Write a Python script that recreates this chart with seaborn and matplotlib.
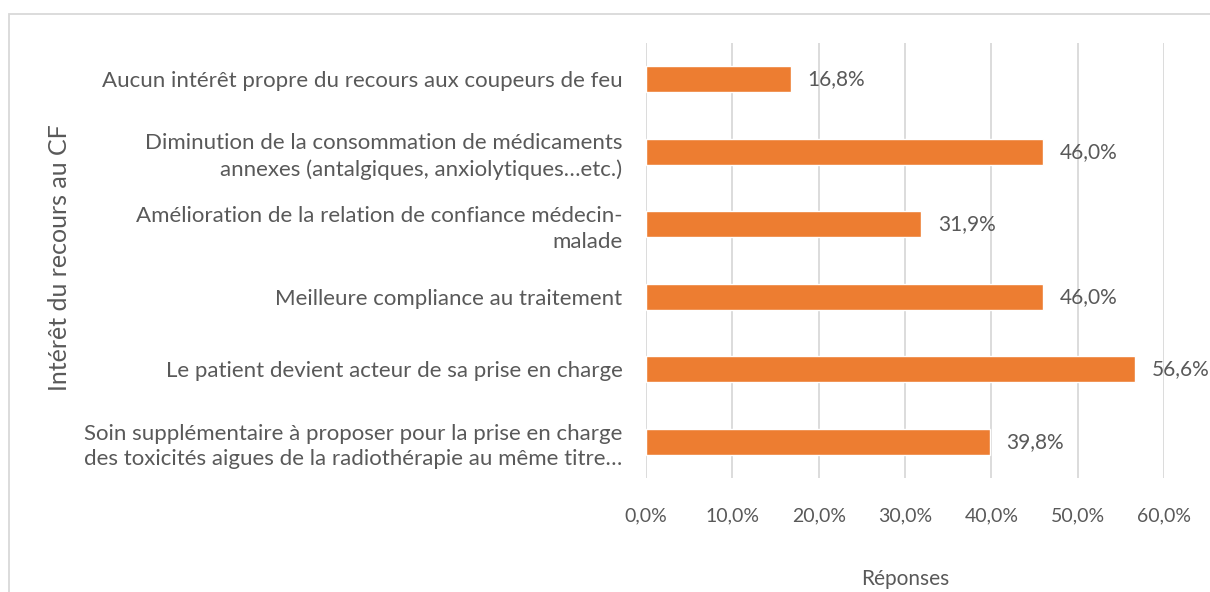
import matplotlib
matplotlib.use("Agg")
import matplotlib.pyplot as plt
import matplotlib.patches as mpatches
import seaborn as sns
import pandas as pd
from matplotlib.ticker import FuncFormatter

# ── data ─────────────────────────────────────────────
categories = [
    "Aucun intérêt propre du recours aux coupeurs de feu",
    "Diminution de la consommation de médicaments\nannexes (antalgiques, anxiolytiques…etc.)",
    "Amélioration de la relation de confiance médecin-\nmalade",
    "Meilleure compliance au traitement",
    "Le patient devient acteur de sa prise en charge",
    "Soin supplémentaire à proposer pour la prise en charge\ndes toxicités aigues de la radiothérapie au même titre…",
]
values = [16.8, 46.0, 31.9, 46.0, 56.6, 39.8]
x_ticks = [0, 10, 20, 30, 40, 50, 60]

df = pd.DataFrame({"cat": categories, "val": values})

BAR = "#ED7D31"
TXT = "#595959"
GRID = "#D9D9D9"

sns.set_theme(style="white")
plt.rcParams["font.family"] = ["Lato", "DejaVu Sans"]

fig = plt.figure(figsize=(12.1, 5.92), dpi=100)
ax = fig.add_axes([646 / 1210, 1 - 478 / 592, (1164 - 646) / 1210, (478 - 43) / 592])

sns.barplot(data=df, x="val", y="cat", color=BAR, width=0.355, ax=ax,
            saturation=1, orient="h")

for i, v in enumerate(values):
    ax.annotate(f"{v:.1f}%".replace(".", ","), (v, i), xytext=(12, 0),
                textcoords="offset points", va="center", ha="left",
                fontsize=15, color=TXT)

ax.set_xlim(0, 60)
ax.set_xticks(x_ticks)
ax.xaxis.set_major_formatter(FuncFormatter(lambda x, p: f"{x:.1f}%".replace(".", ",")))
ax.grid(axis="x", color=GRID, linewidth=1.3)
ax.set_axisbelow(True)
for s in ax.spines.values():
    s.set_visible(False)

ax.tick_params(axis="x", length=5, color=GRID, width=1.3, pad=16, labelsize=14, labelcolor=TXT)
ax.tick_params(axis="y", length=0, pad=17, labelsize=16, labelcolor=TXT)
for lab in ax.get_yticklabels():
    lab.set_horizontalalignment("right")
    lab.set_multialignment("right")
    lab.set_linespacing(1.35)

ax.set_xlabel("Réponses", fontsize=15, color=TXT, labelpad=32)
ax.set_ylabel("")
fig.text(60 / 1210, 1 - 258 / 592, "Intérêt du recours au CF", rotation=90,
         ha="center", va="center", fontsize=18, color=TXT)

# chart frame
fig.patches.append(mpatches.Rectangle((9 / 1210, -0.05), 1.1, 1 - 14 / 592 + 0.05,
                                      transform=fig.transFigure, fill=False,
                                      edgecolor=GRID, linewidth=1.3))

fig.savefig("out.png", dpi=100)
